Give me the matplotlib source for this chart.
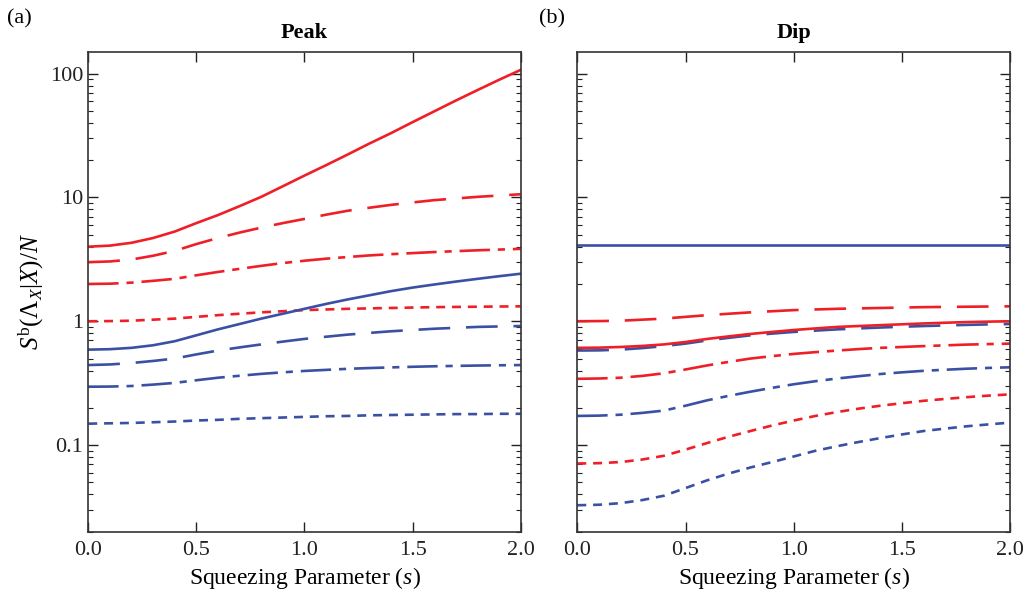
import numpy as np
import matplotlib
matplotlib.use("Agg")
import matplotlib.pyplot as plt
from matplotlib.ticker import FixedLocator, FixedFormatter, LogLocator, NullFormatter

plt.rcParams["font.family"] = ["Liberation Serif", "DejaVu Serif"]
plt.rcParams["mathtext.fontset"] = "custom"
plt.rcParams["mathtext.rm"] = "Liberation Serif"
plt.rcParams["mathtext.it"] = "Liberation Serif:italic"
plt.rcParams["mathtext.bf"] = "Liberation Serif:bold"

RED = "#ee1f26"
BLUE = "#3a51a3"

# squeezing parameter
s = [0.0, 0.1, 0.2, 0.3, 0.4, 0.5, 0.6, 0.7, 0.8, 0.9, 1.0,
     1.1, 1.2, 1.3, 1.4, 1.5, 1.6, 1.7, 1.8, 1.9, 2.0]

# Peak panel
peak_red_solid = [4.0, 4.08, 4.3, 4.7, 5.3, 6.2, 7.2, 8.5, 10.1, 12.3, 15.0,
                  18.2, 22.2, 27.2, 33.0, 40.5, 49.5, 60.5, 73.5, 89, 107]
peak_red_dashed = [3.0, 3.04, 3.15, 3.38, 3.7, 4.2, 4.7, 5.2, 5.7, 6.2, 6.7,
                   7.25, 7.8, 8.25, 8.7, 9.1, 9.5, 9.8, 10.1, 10.35, 10.6]
peak_red_dashdot = [2.0, 2.01, 2.05, 2.12, 2.2, 2.35, 2.5, 2.65, 2.8, 2.95, 3.08,
                    3.2, 3.3, 3.4, 3.48, 3.55, 3.62, 3.68, 3.74, 3.79, 3.84]
peak_red_dotted = [1.0, 1.003, 1.01, 1.03, 1.05, 1.085, 1.12, 1.15, 1.18, 1.205, 1.23,
                   1.245, 1.26, 1.27, 1.28, 1.29, 1.30, 1.305, 1.31, 1.315, 1.32]
peak_blue_solid = [0.59, 0.595, 0.61, 0.64, 0.69, 0.77, 0.86, 0.95, 1.05, 1.15, 1.26,
                   1.38, 1.5, 1.62, 1.75, 1.87, 1.98, 2.09, 2.2, 2.31, 2.42]
peak_blue_dashed = [0.443, 0.448, 0.46, 0.478, 0.5, 0.54, 0.58, 0.615, 0.65, 0.685, 0.72,
                    0.75, 0.78, 0.805, 0.83, 0.85, 0.87, 0.885, 0.9, 0.908, 0.915]
peak_blue_dashdot = [0.296, 0.297, 0.3, 0.308, 0.318, 0.334, 0.35, 0.363, 0.376, 0.387, 0.397,
                     0.405, 0.413, 0.419, 0.424, 0.429, 0.433, 0.436, 0.439, 0.441, 0.443]
peak_blue_dotted = [0.149, 0.15, 0.151, 0.153, 0.155, 0.158, 0.16, 0.163, 0.165, 0.167, 0.169,
                    0.171, 0.172, 0.174, 0.175, 0.176, 0.177, 0.178, 0.178, 0.179, 0.179]

# Dip panel
dip_blue_solid = [4.1] * 21
dip_red_dashed = [1.0, 1.003, 1.01, 1.03, 1.05, 1.085, 1.12, 1.15, 1.18, 1.205, 1.23,
                  1.245, 1.26, 1.27, 1.28, 1.29, 1.30, 1.305, 1.31, 1.315, 1.32]
dip_red_solid = [0.61, 0.612, 0.62, 0.632, 0.65, 0.68, 0.72, 0.755, 0.79, 0.82, 0.85,
                 0.875, 0.9, 0.915, 0.93, 0.945, 0.96, 0.973, 0.985, 0.993, 1.0]
dip_blue_dashed = [0.58, 0.582, 0.59, 0.607, 0.63, 0.66, 0.7, 0.735, 0.77, 0.795, 0.82,
                   0.84, 0.86, 0.875, 0.89, 0.903, 0.915, 0.925, 0.935, 0.943, 0.95]
dip_red_dashdot = [0.343, 0.345, 0.35, 0.362, 0.38, 0.408, 0.44, 0.47, 0.5, 0.523, 0.545,
                   0.563, 0.58, 0.596, 0.61, 0.62, 0.63, 0.639, 0.648, 0.654, 0.66]
dip_blue_dashdot = [0.172, 0.173, 0.176, 0.182, 0.19, 0.208, 0.23, 0.25, 0.27, 0.29, 0.31,
                    0.328, 0.345, 0.36, 0.375, 0.387, 0.398, 0.406, 0.414, 0.42, 0.425]
dip_red_dotted = [0.071, 0.0715, 0.073, 0.0765, 0.082, 0.092, 0.104, 0.117, 0.13, 0.144, 0.158,
                  0.172, 0.185, 0.197, 0.208, 0.218, 0.228, 0.236, 0.244, 0.251, 0.257]
dip_blue_dotted = [0.0327, 0.033, 0.034, 0.036, 0.039, 0.045, 0.052, 0.059, 0.066, 0.073, 0.081,
                   0.09, 0.098, 0.106, 0.114, 0.122, 0.13, 0.136, 0.142, 0.147, 0.152]

xticks = [0.0, 0.5, 1.0, 1.5, 2.0]
xtick_labels = ["0.0", "0.5", "1.0", "1.5", "2.0"]
yticks = [0.1, 1, 10, 100]
ytick_labels = ["0.1", "1", "10", "100"]

SOLID = "-"
DASHED = (0, (12, 6))
DASHDOT = (0, (11.5, 3, 2.7, 3))
DOTTED = (0, (3.4, 2.6))

fig = plt.figure(figsize=(10.25, 5.89), dpi=100)
ax1 = fig.add_axes([0.0861, 0.0973, 0.4219, 0.8149])
ax2 = fig.add_axes([0.5632, 0.0973, 0.4225, 0.8149])

lw = 1.9
ax1.plot(s, peak_red_solid, color=RED, lw=lw, ls=SOLID)
ax1.plot(s, peak_red_dashed, color=RED, lw=lw, ls=DASHED)
ax1.plot(s, peak_red_dashdot, color=RED, lw=lw, ls=DASHDOT)
ax1.plot(s, peak_red_dotted, color=RED, lw=lw, ls=DOTTED)
ax1.plot(s, peak_blue_solid, color=BLUE, lw=lw, ls=SOLID)
ax1.plot(s, peak_blue_dashed, color=BLUE, lw=lw, ls=DASHED)
ax1.plot(s, peak_blue_dashdot, color=BLUE, lw=lw, ls=DASHDOT)
ax1.plot(s, peak_blue_dotted, color=BLUE, lw=lw, ls=DOTTED)

ax2.plot(s, dip_blue_solid, color=BLUE, lw=lw, ls=SOLID)
ax2.plot(s, dip_red_dashed, color=RED, lw=lw, ls=DASHED)
ax2.plot(s, dip_blue_dashed, color=BLUE, lw=lw, ls=DASHED)
ax2.plot(s, dip_red_solid, color=RED, lw=lw, ls=SOLID)
ax2.plot(s, dip_red_dashdot, color=RED, lw=lw, ls=DASHDOT)
ax2.plot(s, dip_blue_dashdot, color=BLUE, lw=lw, ls=DASHDOT)
ax2.plot(s, dip_red_dotted, color=RED, lw=lw, ls=DOTTED)
ax2.plot(s, dip_blue_dotted, color=BLUE, lw=lw, ls=DOTTED)

for ax in (ax1, ax2):
    ax.set_yscale("log")
    ax.set_xlim(0, 2)
    ax.set_ylim(0.02, 150)
    ax.xaxis.set_major_locator(FixedLocator(xticks))
    ax.xaxis.set_major_formatter(FixedFormatter(xtick_labels))
    ax.yaxis.set_major_locator(FixedLocator(yticks))
    ax.yaxis.set_minor_locator(LogLocator(base=10, subs=np.arange(2, 10)))
    ax.yaxis.set_minor_formatter(NullFormatter())
    ax.tick_params(which="both", direction="in", top=True, right=True, labelsize=16, colors="#222222")
    ax.tick_params(axis="x", pad=7)
    ax.tick_params(which="major", length=7, width=1)
    ax.tick_params(which="minor", length=3.5, width=0.8)
    for sp in ax.spines.values():
        sp.set_color("#333333")
        sp.set_linewidth(1.2)
    ax.set_xlabel("Squeezing Parameter ($s$)", fontsize=17, labelpad=3)

ax1.yaxis.set_major_formatter(FixedFormatter(ytick_labels))
ax2.yaxis.set_major_formatter(NullFormatter())
ax1.set_ylabel("$S^{\\mathrm{b}}(\\mathit{\u039b}_X|X)/N$", fontsize=18, labelpad=3)

ax1.set_title("Peak", fontsize=16, fontweight="bold", pad=10)
ax2.set_title("Dip", fontsize=16, fontweight="bold", pad=10)

fig.text(0.007, 0.968, "(a)", fontsize=16, va="center", ha="left")
fig.text(0.526, 0.968, "(b)", fontsize=16, va="center", ha="left")

fig.savefig("out.png", dpi=100)
